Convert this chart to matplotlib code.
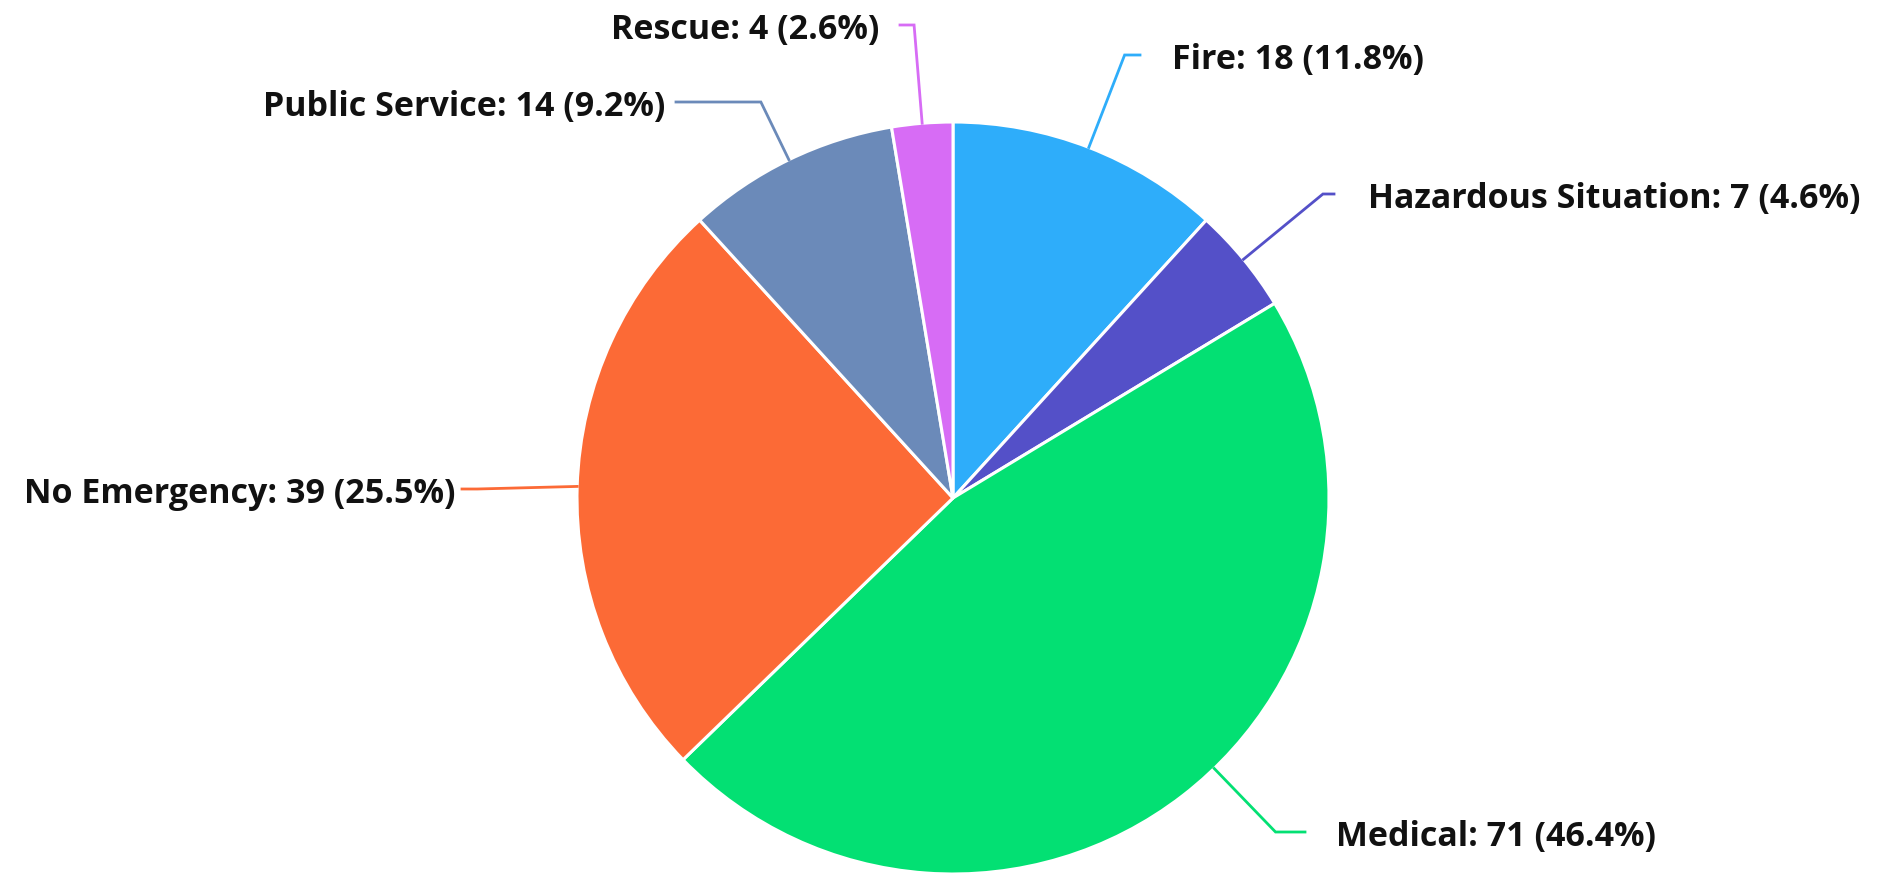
import numpy as np
import matplotlib.pyplot as plt

# dados do gráfico
categorias = ["Fire", "Hazardous Situation", "Medical", "No Emergency",
              "Public Service", "Rescue"]
valores = [18, 7, 71, 39, 14, 4]
cores = ["#2EADFA", "#5450C8", "#03E073", "#FC6A36", "#6B8AB9", "#D76CF5"]

# posição dos rótulos (pixels): y do texto, fim da linha, x do texto
rotulo_y = [56, 195, 833, 490, 103, 26]
fim_linha_x = [1140, 1334, 1305, 462, 676, 900]
texto_x = [1172, 1368, 1336, 455, 665, 879]
angulo_linha = {2: 46}  # ajuste da linha do Medical (graus, em dados)

LARGURA, ALTURA = 1880, 879
CENTRO = (953, 499)
RAIO = 376

fig = plt.figure(figsize=(LARGURA / 100, ALTURA / 100), dpi=100)
ax = fig.add_axes([0, 0, 1, 1])

total = sum(valores)
fatias, _ = ax.pie(
    valores,
    colors=cores,
    startangle=-90,
    counterclock=True,
    center=CENTRO,
    radius=RAIO,
    wedgeprops=dict(edgecolor="white", linewidth=2.2, joinstyle="round"),
)

ax.set_xlim(0, LARGURA)
ax.set_ylim(ALTURA, 0)
ax.set_aspect("auto")
ax.axis("off")

for i, fatia in enumerate(fatias):
    meio = np.deg2rad(angulo_linha.get(i, (fatia.theta1 + fatia.theta2) / 2))
    dx, dy = np.cos(meio), np.sin(meio)
    x0 = CENTRO[0] + RAIO * dx
    y0 = CENTRO[1] + RAIO * dy
    if abs(dy) > 0.2:
        t = (rotulo_y[i] - CENTRO[1]) / dy
        xc = CENTRO[0] + t * dx
    else:
        xc = CENTRO[0] + (RAIO + 100) * dx
    ax.plot([x0, xc, fim_linha_x[i]], [y0, rotulo_y[i], rotulo_y[i]],
            color=cores[i], linewidth=2.0, solid_joinstyle="miter")

    pct = valores[i] / total * 100
    alinhamento = "left" if texto_x[i] > CENTRO[0] else "right"
    ax.text(texto_x[i], rotulo_y[i], f"{categorias[i]}: {valores[i]} ({pct:.1f}%)",
            ha=alinhamento, va="center_baseline", fontsize=24.5,
            fontweight="bold", family=["Open Sans", "DejaVu Sans"],
            color="#111111")

fig.savefig("out.png", dpi=100)
